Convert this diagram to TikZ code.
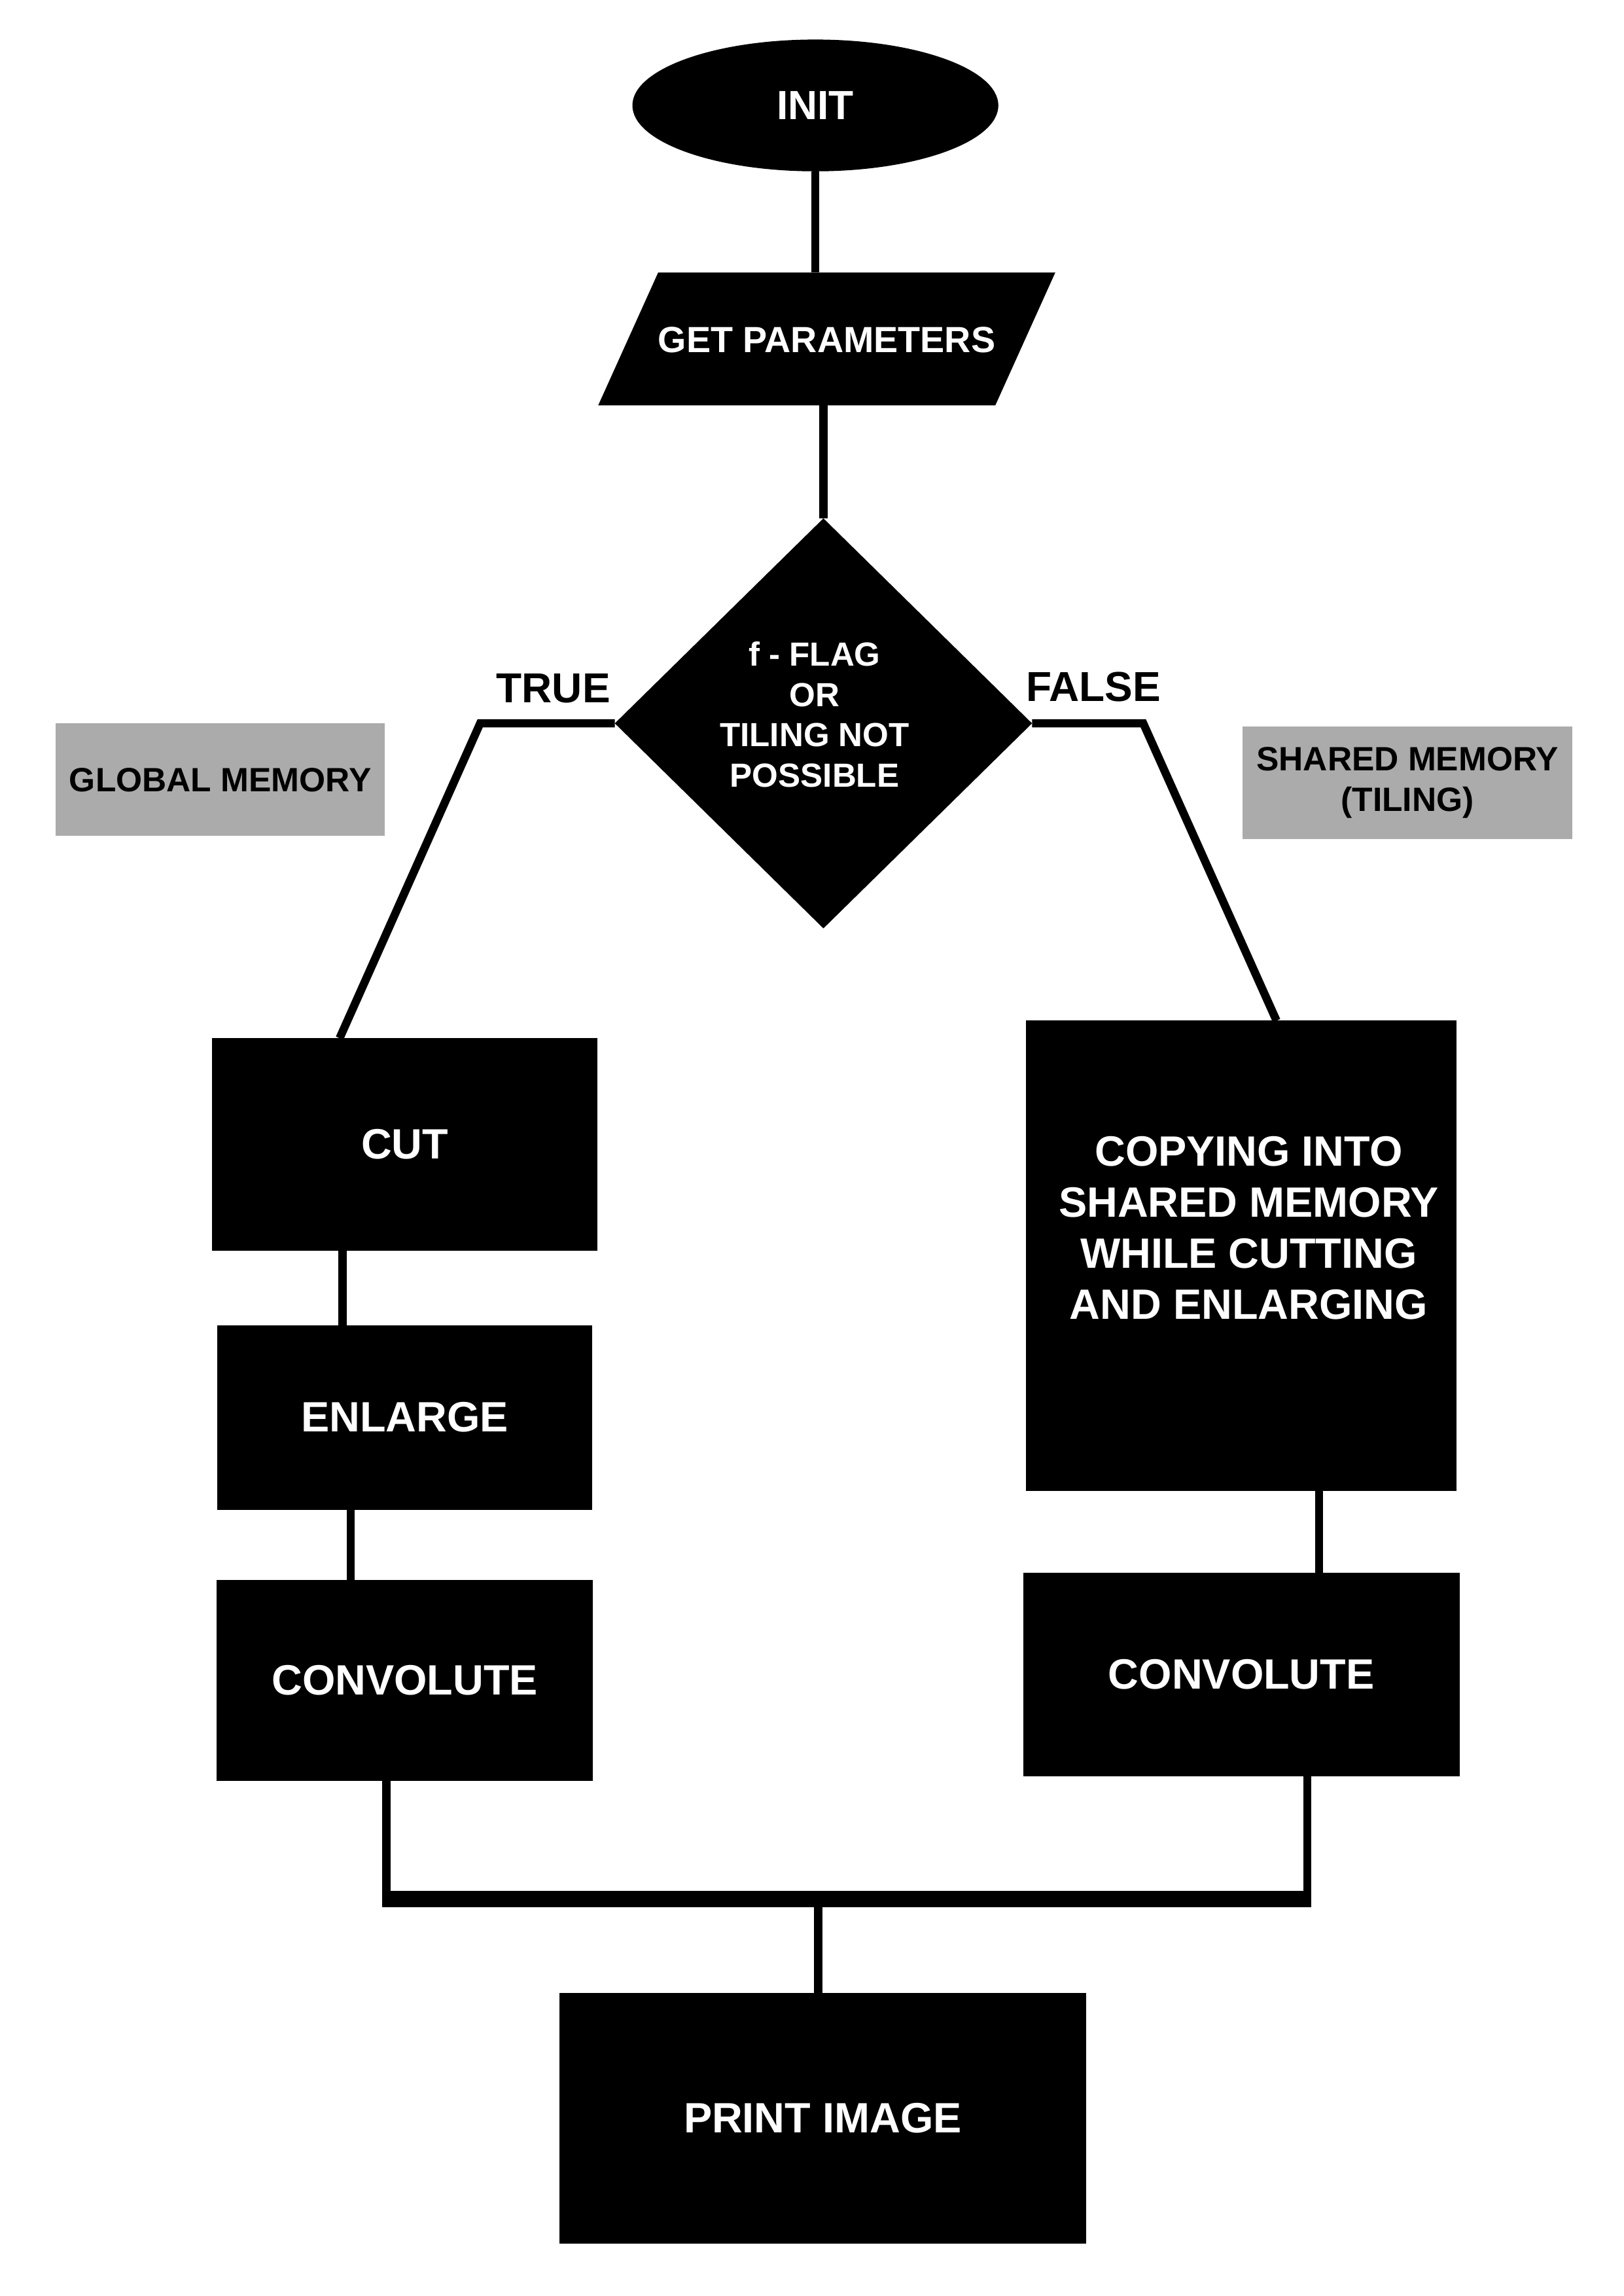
\documentclass[tikz,border=0pt]{standalone}
\usepackage{fontspec}
\setmainfont{Liberation Sans}
\usetikzlibrary{positioning, shapes.geometric}
\definecolor{memgray}{HTML}{ABABAB}
\newlength{\pxu}
\setlength{\pxu}{0.018936cm}

\begin{document}
\begin{tikzpicture}[x=0.018936cm, y=-0.018936cm, line width=3pt,
      proc/.style={fill=black, text=white, inner sep=0pt, outer sep=0pt, align=center,
                   font=\bfseries\fontsize{15.6}{18.8}\selectfont},
      term/.style={proc, ellipse, minimum width=250\pxu, minimum height=90\pxu,
                   font=\bfseries\fontsize{15}{18}\selectfont},
      io/.style={proc, trapezium, trapezium left angle=65.7, trapezium right angle=114.3,
                 trapezium stretches body, text height=10pt, text depth=0pt, inner ysep=19.45pt,
                 minimum width=305\pxu, font=\bfseries\fontsize{13.4}{16}\selectfont},
      decision/.style={proc, diamond, minimum width=285\pxu, minimum height=280\pxu},
      dectext/.style={proc, font=\bfseries\fontsize{12.3}{14.8}\selectfont},
      mem/.style={fill=memgray, inner sep=0pt, align=center, minimum width=225\pxu,
                  minimum height=77\pxu, font=\bfseries\fontsize{12.4}{14.8}\selectfont},
      lbl/.style={font=\bfseries\fontsize{15.4}{18}\selectfont},
      bar/.style={line width=6pt, shorten <=-1.5pt, shorten >=-1.5pt}]
    \useasboundingbox (0,0) rectangle (1109,1568);
    \node[term] (init) at (557,72) {INIT};
    \node[io] (param) at (564.75,231.5) {GET PARAMETERS};
    \node[decision, label={[dectext, xshift=-6\pxu, yshift=6\pxu]center:{f - FLAG\\OR\\TILING NOT\\POSSIBLE}}]
          (dec) at (562.5,494) {};
    \node[mem] (glob) at (150.5,532.5) {GLOBAL MEMORY};
    \node[mem] (shrd) at (961.5,534.5) {SHARED MEMORY\\(TILING)};
    \node[lbl] (true) at (378,470) {TRUE};
    \node[lbl] (false) at (747,469) {FALSE};
    % global memory branch
    \node[proc, minimum width=263\pxu, minimum height=145\pxu] (cut) at (276.5,781.5) {CUT};
    \node[proc, minimum width=256\pxu, minimum height=126\pxu, below=51\pxu of cut] (enl) {ENLARGE};
    \node[proc, minimum width=257\pxu, minimum height=137\pxu, below=48\pxu of enl] (convl) {CONVOLUTE};
    % shared memory branch
    \node[proc, minimum width=294\pxu, minimum height=321\pxu,
          label={[proc, xshift=5\pxu, yshift=19\pxu]center:{COPYING INTO\\SHARED MEMORY\\WHILE CUTTING\\AND ENLARGING}}]
          (copy) at (848,857.5) {};
    \node[proc, minimum width=298\pxu, minimum height=139\pxu, below=56\pxu of copy] (convr) {CONVOLUTE};
    \node[proc, minimum width=360\pxu, minimum height=171\pxu] (print) at (562,1446.5) {PRINT IMAGE};
    \coordinate (join) at (559,1297);

    \draw (init.south) -- (init.south |- param.north);
    \draw (dec.north |- param.south) -- (dec.north);
    \draw (dec.west) -- ++(-92,0) -- ([xshift=-44.5\pxu]cut.north);
    \draw (dec.east) -- ++(76,0) -- ([xshift=24\pxu]copy.north);
    \draw ([xshift=-42.5\pxu]cut.south) -- ([xshift=-42.5\pxu]cut.south |- enl.north);
    \draw ([xshift=-37\pxu]enl.south) -- ([xshift=-37\pxu]enl.south |- convl.north);
    \draw ([xshift=53\pxu]copy.south) -- ([xshift=53\pxu]copy.south |- convr.north);
    \draw ([xshift=-12.5\pxu]convl.south) -- ([xshift=-12.5\pxu]convl.south |- join);
    \draw ([xshift=45\pxu]convr.south) -- ([xshift=45\pxu]convr.south |- join);
    \draw[bar] ([xshift=-12.5\pxu]convl.south |- join) -- ([xshift=45\pxu]convr.south |- join);
    \draw (join) -- (join |- print.north);
  \end{tikzpicture}
\end{document}
